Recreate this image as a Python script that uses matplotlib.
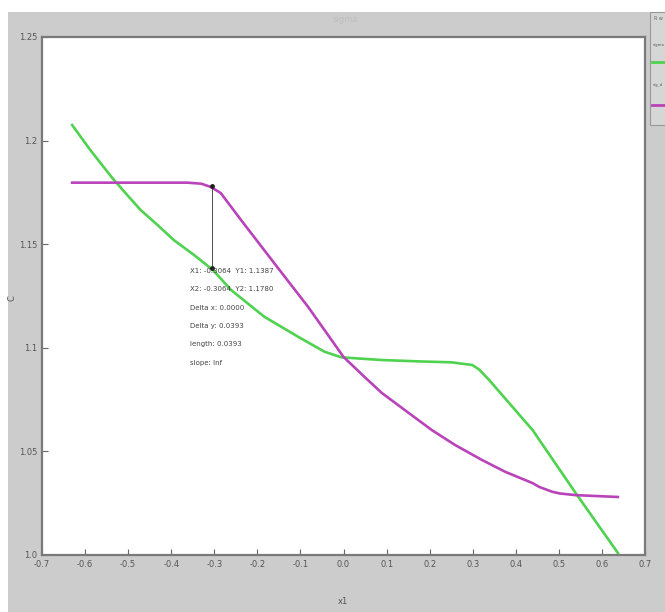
import matplotlib.pyplot as plt
from matplotlib.patches import Rectangle
from matplotlib.lines import Line2D

# values
green_x = [-0.630, -0.588, -0.537, -0.502, -0.471, -0.432, -0.394, -0.347, -0.303, -0.261,
           -0.184, -0.106, -0.044, -0.005, 0.089, 0.180, 0.250, 0.299, 0.315,
           0.338, 0.439, 0.539, 0.637]
green_y = [1.2075, 1.1955, 1.182, 1.1737, 1.1665, 1.1593, 1.152, 1.1448, 1.1375, 1.1279,
           1.115, 1.1054, 1.0981, 1.0954, 1.0941, 1.0934, 1.0930, 1.0917, 1.0895,
           1.0845, 1.0603, 1.0299, 1.001]

magenta_x = [-0.630, -0.362, -0.330, -0.308, -0.285, -0.238, -0.161, -0.082, 0.0, 0.049,
             0.089, 0.142, 0.205, 0.259, 0.322, 0.376, 0.439, 0.455, 0.485, 0.502, 0.539, 0.637]
magenta_y = [1.1797, 1.1797, 1.1792, 1.1776, 1.1747, 1.1617, 1.1409, 1.1197, 1.0956, 1.0859,
             1.0782, 1.0700, 1.0603, 1.0531, 1.0458, 1.0401, 1.0347, 1.0328, 1.0305, 1.0297,
             1.0289, 1.028]

xticks = [-0.7, -0.6, -0.5, -0.4, -0.3, -0.2, -0.1, 0.0, 0.1, 0.2, 0.3, 0.4, 0.5, 0.6, 0.7]
yticks = [1.0, 1.05, 1.1, 1.15, 1.2, 1.25]
ytick_labels = ['1.0', '1.05', '1.1', '1.15', '1.2', '1.25']

tip_x = -0.3064
tip_y = [1.1387, 1.1780]
tip_text = ['X1: -0.3064  Y1: 1.1387',
            'X2: -0.3064  Y2: 1.1780',
            'Delta x: 0.0000',
            'Delta y: 0.0393',
            'length: 0.0393',
            'slope: Inf']

W, H = 665, 612
fig = plt.figure(figsize=(W / 100, H / 100), dpi=100, facecolor='white')
fig.patches.append(Rectangle((8 / W, 0), 1, 1 - 12 / H, transform=fig.transFigure,
                             facecolor='#cccccc', edgecolor='none', zorder=-10))

ax = fig.add_axes([42 / W, 1 - 555 / H, (645 - 42) / W, (555 - 37) / H])
ax.set_facecolor('white')

ax.plot(green_x, green_y, color='#4fd24f', lw=1.9, solid_joinstyle='round')
ax.plot(magenta_x, magenta_y, color='#b943b9', lw=1.9, solid_joinstyle='round')

# data tip
ax.plot([tip_x, tip_x], tip_y, color='#333333', lw=0.6)
ax.plot([tip_x, tip_x], tip_y, 'o', color='#222222', ms=2.5)
for i, t in enumerate(tip_text):
    ax.text(190 / W, 1 - (268 + i * 18.3) / H, t, transform=fig.transFigure,
            fontsize=5, color='#444444', va='top', ha='left')

ax.set_xlim(-0.7, 0.7)
ax.set_ylim(1.0, 1.25)
ax.set_xticks(xticks)
ax.set_xticklabels([f'{v:.1f}' for v in xticks])
ax.set_yticks(yticks)
ax.set_yticklabels(ytick_labels)
ax.tick_params(direction='in', length=4, width=0.8, colors='#666666',
               labelsize=6, labelcolor='#555555')
for s in ax.spines.values():
    s.set_color('#7a7a7a')
    s.set_linewidth(1.6)

fig.text(343 / W, 1 - 602 / H, 'x1', fontsize=6, color='#555555', ha='center', va='center')
fig.text(12 / W, 1 - 298 / H, 'C', fontsize=6, color='#555555', ha='center', va='center',
         rotation=90)
fig.text(345 / W, 1 - 20 / H, 'sigma', fontsize=6, color='#bdbdbd', ha='center', va='center')

# legend box at the right edge
fig.patches.append(Rectangle((650 / W, 1 - 125 / H), 30 / W, 113 / H, transform=fig.transFigure,
                             facecolor='#d6d6d6', edgecolor='#999999', lw=0.8, zorder=5))
fig.text(654 / W, 1 - 18 / H, 'R w', fontsize=3.5, color='#666666', va='center', zorder=6)
fig.text(653 / W, 1 - 45 / H, 'sigma', fontsize=2.8, color='#555555', va='center', zorder=6)
fig.text(653 / W, 1 - 85 / H, 'sig_d', fontsize=2.8, color='#555555', va='center', zorder=6)
fig.lines.append(Line2D([652 / W, 1], [1 - 62 / H] * 2, transform=fig.transFigure,
                        color='#4fd24f', lw=2, zorder=6))
fig.lines.append(Line2D([652 / W, 1], [1 - 105 / H] * 2, transform=fig.transFigure,
                        color='#b943b9', lw=2, zorder=6))

fig.savefig('out.png', dpi=100, facecolor=fig.get_facecolor())
